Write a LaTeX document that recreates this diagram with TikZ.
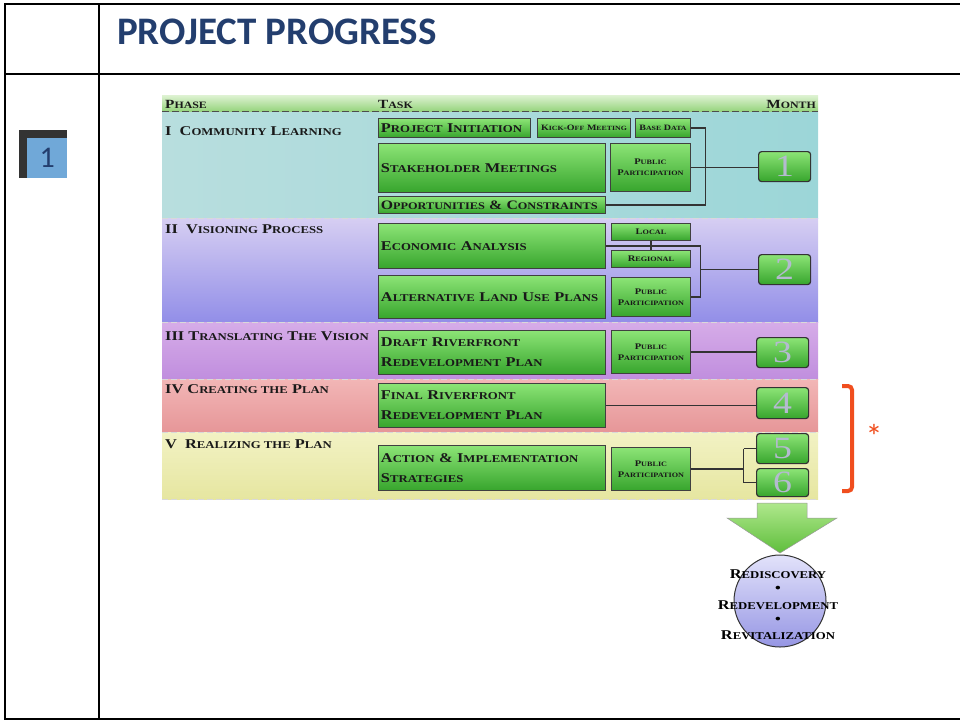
\documentclass[tikz,border=0pt]{standalone}
\usepackage{fontspec}
\newfontfamily\chartfont[FakeStretch=1.22]{Liberation Serif}
\newfontfamily\titlefont{Carlito}
\makeatletter
\newcommand\sC[1]{{\fontsize{\fpeval{round(0.78*\f@size,2)}}{\fpeval{round(0.78*\f@size,2)}}\selectfont #1}}
\makeatother
\definecolor{titleblue}{RGB}{35,62,110}
\definecolor{badgedark}{RGB}{51,51,51}
\definecolor{badgeblue}{RGB}{112,168,216}
\definecolor{gTop}{RGB}{140,228,118}
\definecolor{gBot}{RGB}{55,165,45}
\definecolor{hTop}{RGB}{222,242,210}
\definecolor{hBot}{RGB}{150,212,125}
\definecolor{b1L}{RGB}{184,222,222}
\definecolor{b1R}{RGB}{156,214,216}
\definecolor{b2T}{RGB}{214,206,242}
\definecolor{b2B}{RGB}{146,142,232}
\definecolor{b3T}{RGB}{214,172,232}
\definecolor{b3B}{RGB}{192,142,222}
\definecolor{b4T}{RGB}{242,182,182}
\definecolor{b4B}{RGB}{230,150,152}
\definecolor{b5T}{RGB}{242,242,196}
\definecolor{b5B}{RGB}{230,230,160}
\definecolor{numc}{RGB}{180,186,208}
\definecolor{brk}{RGB}{240,78,30}
\definecolor{cTop}{RGB}{226,226,250}
\definecolor{cBot}{RGB}{150,150,228}
\definecolor{aTop}{RGB}{175,232,140}
\definecolor{aBot}{RGB}{95,190,60}
\begin{document}
\begin{tikzpicture}[x=1pt,y=-1pt,
  band/.style={anchor=north west, inner sep=0, minimum width=656, draw=none},
  taskbox/.style={anchor=north west, draw=black!75, line width=0.9pt, top color=gTop, bottom color=gBot,
     inner xsep=2.5pt, inner ysep=0pt, align=left, text=black!90,
     font=\chartfont\bfseries\fontsize{13.4}{20}\selectfont},
  smallbox/.style={taskbox, align=center, inner xsep=0.5pt, font=\chartfont\bfseries\fontsize{8.6}{11}\selectfont},
  monthbox/.style={anchor=north west, draw=black!80, line width=1.2pt, rounded corners=3pt,
     top color=gTop, bottom color=gBot, inner sep=0, minimum width=52, minimum height=30,
     text=numc, font=\chartfont\fontsize{31}{31}\selectfont},
  phaselbl/.style={anchor=base west, inner sep=0, text=black!90, font=\chartfont\bfseries\fontsize{13.4}{14}\selectfont},
  hdrlbl/.style={phaselbl, font=\chartfont\bfseries\fontsize{12.5}{13}\selectfont},
  link/.style={draw=black!80, line width=1.1pt},
  sep/.style={draw=white!85!black, line width=1pt, dash pattern=on 6pt off 3pt},
  restxt/.style={inner sep=0, text=black, font=\chartfont\bfseries\fontsize{13.4}{14}\selectfont}
]
\useasboundingbox (0,0) rectangle (960,721);
% table frame
\draw[line width=2.5pt] (960,4) -- (5,4) -- (5,719) -- (960,719);
\draw[line width=2.2pt] (99,4) -- (99,719);
\draw[line width=2.2pt] (5,74) -- (960,74);
\node[anchor=base west, inner sep=0, text=titleblue, font=\titlefont\bfseries\fontsize{39}{39}\selectfont] (title) at (117,44) {PROJECT PROGRESS};
\node[anchor=north west, fill=badgedark, minimum size=48, inner sep=0] (badgebg) at (19,130) {};
\node[anchor=north west, fill=badgeblue, minimum size=40, inner sep=0, text=titleblue, font=\titlefont\fontsize{30}{30}\selectfont] (badge) at (27,138) {1};
% header band and phase bands
\node[band, minimum height=16, top color=hTop, bottom color=hBot] (hdr) at (162,95) {};
\node[band, minimum height=106, left color=b1L, right color=b1R] (band1) at (162,112) {};
\node[band, minimum height=104, top color=b2T, bottom color=b2B] (band2) at (162,218) {};
\node[band, minimum height=57, top color=b3T, bottom color=b3B] (band3) at (162,322) {};
\node[band, minimum height=53, top color=b4T, bottom color=b4B] (band4) at (162,379) {};
\node[band, minimum height=67, top color=b5T, bottom color=b5B] (band5) at (162,432) {};
\draw[draw=black!70, line width=0.8pt, dash pattern=on 7pt off 3pt] (hdr.south west) -- (hdr.south east);
\draw[sep] (band1.south west) -- (band1.south east);
\draw[sep] (band2.south west) -- (band2.south east);
\draw[sep] (band3.south west) -- (band3.south east);
\draw[sep] (band4.south west) -- (band4.south east);
\draw[sep] (band5.south west) -- (band5.south east);
% header texts
\node[hdrlbl] (hphase) at (165,108) {P\sC{HASE}};
\node[hdrlbl] (htask) at (378,108) {T\sC{ASK}};
\node[hdrlbl, anchor=base east] (hmonth) at (816,108) {M\sC{ONTH}};
% phase labels
\node[phaselbl] (p1) at (165,135) {I\ \ C\sC{OMMUNITY} L\sC{EARNING}};
\node[phaselbl] (p2) at (165,233) {II\ \ V\sC{ISIONING} P\sC{ROCESS}};
\node[phaselbl] (p3) at (165,340) {III T\sC{RANSLATING} T\sC{HE} V\sC{ISION}};
\node[phaselbl] (p4) at (165,393) {IV C\sC{REATING THE} P\sC{LAN}};
\node[phaselbl] (p5) at (165,448) {V\ \ R\sC{EALIZING THE} P\sC{LAN}};
% phase I
\node[taskbox, minimum height=19, text width=147, font=\chartfont\bfseries\fontsize{13.4}{13}\selectfont] (pi) at (378,118) {P\sC{ROJECT} I\sC{NITIATION}};
\node[smallbox, minimum height=19, text width=92, font=\chartfont\bfseries\fontsize{8.2}{9}\selectfont] (ko) at (537,118) {K\sC{ICK}-O\sC{FF} M\sC{EETING}};
\node[smallbox, minimum height=19, text width=54, font=\chartfont\bfseries\fontsize{8.2}{9}\selectfont] (bd) at (635,118) {B\sC{ASE} D\sC{ATA}};
\node[taskbox, minimum height=49, text width=222] (sm) at (378,143) {S\sC{TAKEHOLDER} M\sC{EETINGS}};
\node[smallbox, minimum height=48, text width=79] (pp1) at (610,143) {P\sC{UBLIC}\\P\sC{ARTICIPATION}};
\node[taskbox, minimum height=17, text width=222, font=\chartfont\bfseries\fontsize{12.9}{13}\selectfont] (oc) at (378,196) {O\sC{PPORTUNITIES} \& C\sC{ONSTRAINTS}};
\node[monthbox] (m1) at (758,151) {1};
% phase II
\node[taskbox, minimum height=45, text width=222] (ea) at (378,223) {E\sC{CONOMIC} A\sC{NALYSIS}};
\node[smallbox, minimum height=17, text width=78] (lo) at (611,223) {L\sC{OCAL}};
\node[smallbox, minimum height=17, text width=78] (re) at (611,250) {R\sC{EGIONAL}};
\node[taskbox, minimum height=43, text width=222] (al) at (378,275) {A\sC{LTERNATIVE} L\sC{AND} U\sC{SE} P\sC{LANS}};
\node[smallbox, minimum height=39, text width=78] (pp2) at (611,277) {P\sC{UBLIC}\\P\sC{ARTICIPATION}};
\node[monthbox] (m2) at (758,254) {2};
% phase III
\node[taskbox, minimum height=44, text width=222] (dr) at (378,330) {D\sC{RAFT} R\sC{IVERFRONT}\\R\sC{EDEVELOPMENT} P\sC{LAN}};
\node[smallbox, minimum height=43, text width=78] (pp3) at (611,330) {P\sC{UBLIC}\\P\sC{ARTICIPATION}};
\node[monthbox] (m3) at (756,337) {3};
% phase IV
\node[taskbox, minimum height=44, text width=222] (fr) at (378,383) {F\sC{INAL} R\sC{IVERFRONT}\\R\sC{EDEVELOPMENT} P\sC{LAN}};
\node[monthbox, minimum height=31] (m4) at (756,387) {4};
% phase V
\node[taskbox, minimum height=45, text width=222] (ai) at (378,445) {A\sC{CTION} \& I\sC{MPLEMENTATION}\\S\sC{TRATEGIES}};
\node[smallbox, minimum height=43, text width=78] (pp5) at (611,447) {P\sC{UBLIC}\\P\sC{ARTICIPATION}};
\node[monthbox] (m5) at (756,433) {5};
\node[monthbox, minimum height=28] (m6) at (756,468) {6};
% connectors
\draw[link] (bd.east) -- ++(15,0) |- (oc.east);
\draw[link] (pp1.east) -- (pp1.east -| m1.west);
\draw[link] (ea.east) -- ++(95,0) coordinate (j2) |- (pp2.east);
\draw[link] (lo.south) -- (re.north);
\draw[link] (j2 |- m2.west) -- (m2.west);
\draw[link] (pp3.east) -- (pp3.east -| m3.west);
\draw[link] (fr.east) -- (fr.east -| m4.west);
\draw[link] (pp5.east) -- ++(53,0) coordinate (j5);
\draw[link] (j5 |- m5.west) -- (m5.west);
\draw[link] (j5 |- m6.west) -- (m6.west);
\draw[link] (j5 |- m5.west) -- (j5 |- m6.west);
% orange bracket
\draw[brk, line width=4pt, rounded corners=4pt] (842,386) -- (852,386) -- (852,491) -- (842,491);
\node[inner sep=0, text=brk, font=\titlefont\fontsize{34}{34}\selectfont] (star) at (874,436) {*};
% big arrow
\draw[draw=black!40, line width=0.5pt, top color=aTop, bottom color=aBot]
  (757,503) -- (807,503) -- (807,518) -- (837,518) -- (780,553) -- (727,518) -- (757,518) -- cycle;
% result circle
\node[circle, draw=black!80, line width=1pt, top color=cTop, bottom color=cBot, minimum size=92, inner sep=0] (res) at (780,601) {};
\node[restxt] (r1) at (778,574) {R\sC{EDISCOVERY}};
\node[restxt] (d1) at (778,589) {\textbullet};
\node[restxt] (r2) at (778,605) {R\sC{EDEVELOPMENT}};
\node[restxt] (d2) at (778,620) {\textbullet};
\node[restxt] (r3) at (778,635) {R\sC{EVITALIZATION}};
\end{tikzpicture}
\end{document}
